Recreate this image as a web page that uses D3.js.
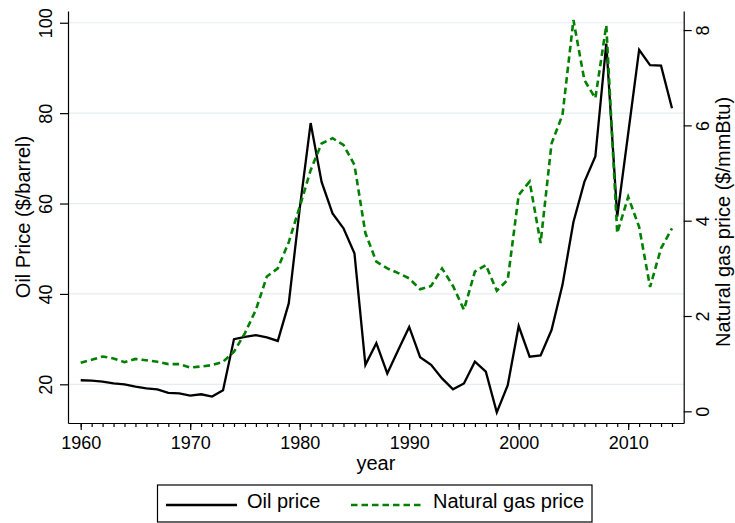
<!DOCTYPE html>
<html>
<head>
<meta charset="utf-8">
<script src="https://cdn.jsdelivr.net/npm/d3@7"></script>
<style>
  body { margin: 0; background: #fff; }
  text { font-family: "Liberation Sans", Arial, sans-serif; fill: #000; }
</style>
</head>
<body>
<svg id="chart" width="735" height="523"></svg>
<script>
// values
const years = d3.range(1960, 2015);
const oilPrice = [
  20.9, 20.8, 20.6, 20.2, 20.0, 19.5, 19.1, 18.9, 18.1, 18.0,
  17.5, 17.8, 17.3, 18.7, 30.0, 30.5, 30.9, 30.4, 29.6, 37.9,
  58.8, 77.8, 64.8, 57.8, 54.5, 49.0, 24.3, 29.1, 22.4, 27.6,
  32.7, 26.0, 24.3, 21.3, 18.9, 20.2, 25.0, 22.8, 13.8, 19.8,
  32.9, 26.1, 26.4, 32.0, 42.0, 55.9, 64.8, 70.4, 95.4, 57.1,
  75.5, 94.0, 90.6, 90.5, 81.1
];
const gasPrice = [
  1.02, 1.08, 1.15, 1.11, 1.03, 1.10, 1.07, 1.04, 0.99, 0.99,
  0.92, 0.94, 0.97, 1.04, 1.25, 1.64, 2.13, 2.83, 3.00, 3.55,
  4.29, 5.06, 5.62, 5.73, 5.59, 5.17, 3.74, 3.14, 3.00, 2.90,
  2.79, 2.56, 2.63, 3.00, 2.63, 2.13, 2.93, 3.07, 2.53, 2.76,
  4.54, 4.82, 3.53, 5.62, 6.22, 8.21, 6.95, 6.57, 8.10, 3.74,
  4.50, 3.87, 2.61, 3.42, 3.84
];
const xTicks = [1960, 1970, 1980, 1990, 2000, 2010];
const leftTicks = [20, 40, 60, 80, 100];
const rightTicks = [0, 2, 4, 6, 8];
const seriesNames = ["Oil price", "Natural gas price"];

const margin = { top: 11, right: 51.3, bottom: 100, left: 68 };
const width = 735, height = 523;
const svg = d3.select("#chart");

const x = d3.scaleLinear()
    .domain([1958.84, 2015.07])
    .range([margin.left, width - margin.right]);
const yL = d3.scaleLinear()
    .domain([11.44, 102.6])
    .range([height - margin.bottom, margin.top]);
const yR = d3.scaleLinear()
    .domain([-0.245, 8.4])
    .range([height - margin.bottom, margin.top]);

const green = "#008000";
const tickFont = "18px", titleFont = "20px";

// gridlines
svg.append("g")
    .selectAll("line")
    .data(leftTicks)
    .join("line")
    .attr("x1", margin.left)
    .attr("x2", width - margin.right)
    .attr("y1", d => yL(d))
    .attr("y2", d => yL(d))
    .attr("stroke", "#e4edf0")
    .attr("stroke-width", 1.2);

// lines
const oilLine = d3.line()
    .x((d, i) => x(years[i]))
    .y(d => yL(d));
const gasLine = d3.line()
    .x((d, i) => x(years[i]))
    .y(d => yR(d));

svg.append("path")
    .datum(oilPrice)
    .attr("d", oilLine)
    .attr("fill", "none")
    .attr("stroke", "#000")
    .attr("stroke-width", 2.3);

svg.append("path")
    .datum(gasPrice)
    .attr("d", gasLine)
    .attr("fill", "none")
    .attr("stroke", green)
    .attr("stroke-width", 2.6)
    .attr("stroke-dasharray", "6.5,4");

// x axis
const xAxisG = svg.append("g")
    .attr("transform", `translate(0,${height - margin.bottom})`);
xAxisG.append("g")
    .call(d3.axisBottom(x).tickValues(years).tickSize(4).tickFormat(""))
    .call(g => g.select(".domain").remove());
xAxisG.append("g")
    .call(d3.axisBottom(x).tickValues(xTicks).tickSize(7).tickSizeOuter(0).tickFormat(d3.format("d")))
    .call(g => g.selectAll("text").attr("y", 26).attr("dy", 0));
xAxisG.selectAll("line, path").attr("stroke", "#000").attr("stroke-width", 1.2);
xAxisG.selectAll("text").style("font-size", tickFont).style("font-family", "Liberation Sans, Arial, sans-serif");

// left axis
const yLG = svg.append("g")
    .attr("transform", `translate(${margin.left},0)`)
    .call(d3.axisLeft(yL).tickValues(leftTicks).tickSize(8).tickSizeOuter(0));
yLG.selectAll("text")
    .attr("x", 0).attr("y", 0).attr("dy", 0)
    .attr("text-anchor", "middle")
    .attr("transform", "translate(-16.3,0) rotate(-90)");

// right axis
const yRG = svg.append("g")
    .attr("transform", `translate(${width - margin.right},0)`)
    .call(d3.axisRight(yR).tickValues(rightTicks).tickSize(8).tickSizeOuter(0));
yRG.selectAll("text")
    .attr("x", 0).attr("y", 0).attr("dy", 0)
    .attr("text-anchor", "middle")
    .attr("transform", "translate(25.6,0) rotate(-90)");

[yLG, yRG].forEach(g => {
    g.selectAll("line, path").attr("stroke", "#000").attr("stroke-width", 1.2);
    g.selectAll("text").style("font-size", tickFont).style("font-family", "Liberation Sans, Arial, sans-serif");
});

// axis titles
const midY = (margin.top + height - margin.bottom) / 2;
svg.append("text")
    .attr("transform", `translate(29.5,${midY}) rotate(-90)`)
    .attr("text-anchor", "middle")
    .style("font-size", titleFont)
    .text("Oil Price ($/barrel)");
svg.append("text")
    .attr("transform", `translate(730,${midY + 5}) rotate(-90)`)
    .attr("text-anchor", "middle")
    .style("font-size", titleFont)
    .text("Natural gas price ($/mmBtu)");
svg.append("text")
    .attr("x", (margin.left + width - margin.right) / 2)
    .attr("y", 470)
    .attr("text-anchor", "middle")
    .style("font-size", titleFont)
    .text("year");

// legend
const legend = svg.append("g");
legend.append("rect")
    .attr("x", 157.5).attr("y", 485)
    .attr("width", 434.5).attr("height", 37)
    .attr("fill", "#fff")
    .attr("stroke", "#000")
    .attr("stroke-width", 1.2);
legend.append("line")
    .attr("x1", 166).attr("x2", 237).attr("y1", 505).attr("y2", 505)
    .attr("stroke", "#000").attr("stroke-width", 2.3);
legend.append("text")
    .attr("x", 247).attr("y", 507.5)
    .style("font-size", titleFont)
    .text(seriesNames[0]);
legend.append("line")
    .attr("x1", 351).attr("x2", 423).attr("y1", 505).attr("y2", 505)
    .attr("stroke", green).attr("stroke-width", 2.6)
    .attr("stroke-dasharray", "6.5,4");
legend.append("text")
    .attr("x", 433).attr("y", 507.5)
    .style("font-size", titleFont)
    .text(seriesNames[1]);
</script>
</body>
</html>
